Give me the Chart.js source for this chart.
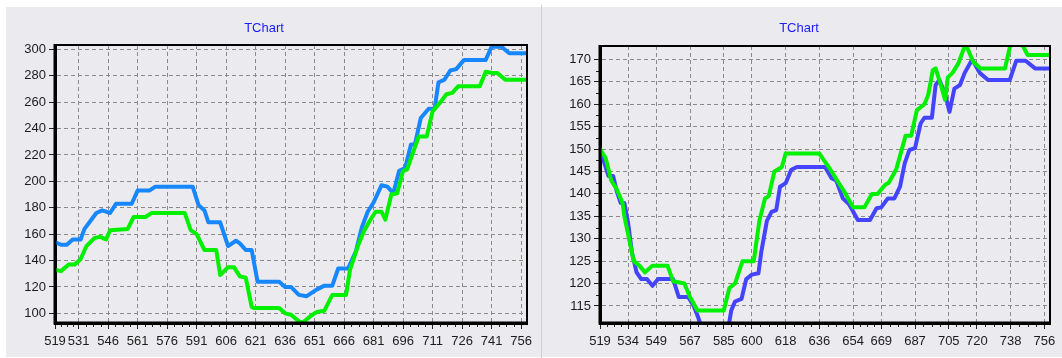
<!DOCTYPE html>
<html>
<head>
<meta charset="utf-8">
<script src="https://cdn.jsdelivr.net/npm/chart.js@4.4.1/dist/chart.umd.min.js"></script>
<style>
  html, body { margin: 0; padding: 0; background: #fff; }
  body { position: relative; width: 1062px; height: 358px; overflow: hidden; }
  .panel { position: absolute; top: 7px; height: 350px; background: #ebeaef; }
  #panelLeft { left: 6px; width: 535px; }
  #panelRight { left: 542px; width: 520px; }
  #divider { position: absolute; left: 541px; top: 5px; width: 1px; height: 353px; background: #cfcfd5; }
  .wrap { position: absolute; top: 0; height: 358px; }
  #wrapLeft { left: 1px; width: 540px; }
  #wrapRight { left: 548px; width: 514px; }
  canvas { display: block; }
</style>
</head>
<body>
<div class="panel" id="panelLeft"></div>
<div id="divider"></div>
<div class="panel" id="panelRight"></div>
<div class="wrap" id="wrapLeft"><canvas id="chartLeft" width="540" height="358"></canvas></div>
<div class="wrap" id="wrapRight"><canvas id="chartRight" width="514" height="358"></canvas></div>
<script>
// ---- Left chart data ----
const leftXTicks = [519, 531, 546, 561, 576, 591, 606, 621, 636, 651, 666, 681, 696, 711, 726, 741, 756];
const leftYTicks = [100, 120, 140, 160, 180, 200, 220, 240, 260, 280, 300];

const leftBlueX = [519, 522, 525, 528, 532, 534, 537, 540, 543, 545, 547, 550, 558, 561, 567, 570, 589, 592, 595, 597,
  603, 607, 611, 613, 616, 619, 622, 633, 636, 639, 643, 647, 652, 656, 660, 663, 668, 672, 675, 678,
  681, 685, 688, 691, 694, 697, 700, 702, 705, 709, 712, 714, 717, 720, 723, 727, 738, 741, 746, 750, 759];
const leftBlueY = [154, 152, 152, 156, 156, 164, 170, 176, 178, 177, 176, 183, 183, 193, 193, 196, 196, 182, 178, 169,
  169, 151, 155, 153, 148, 148, 124, 124, 120, 120, 114, 113, 118, 121, 121, 134, 134, 147, 165, 177,
  184, 197, 196, 191, 208, 210, 228, 228, 248, 255, 255, 275, 277, 284, 285, 292, 292, 302, 302, 297, 297];

const leftGreenX = [519, 522, 526, 529, 532, 535, 539, 542, 545, 547, 556, 559, 565, 568, 585, 588, 591, 595, 601, 603,
  607, 610, 613, 616, 619, 620, 633, 636, 639, 643, 645, 649, 652, 656, 660, 667, 669, 673, 676, 679,
  682, 685, 687, 690, 693, 696, 698, 702, 704, 708, 711, 715, 718, 721, 724, 735, 738, 742, 744, 748, 759];
const leftGreenY = [133, 132, 137, 137, 141, 151, 157, 158, 156, 163, 164, 173, 173, 176, 176, 163, 160, 148, 148, 129,
  135, 135, 128, 127, 105, 104, 104, 100, 99, 94, 93, 98, 101, 102, 114, 114, 133, 151, 162, 170,
  177, 177, 171, 190, 191, 208, 209, 226, 234, 234, 253, 260, 266, 267, 272, 272, 283, 282, 282, 277, 277];

// ---- Right chart data ----
const rightXTicks = [519, 534, 549, 567, 585, 600, 618, 636, 654, 669, 687, 705, 720, 738, 756];
const rightYTicks = [115, 120, 125, 130, 135, 140, 145, 150, 155, 160, 165, 170];

const rightGreenX = [519, 522, 525, 528, 531, 532, 535, 537, 540, 543, 547, 555, 558, 564, 567, 571, 585, 588, 591, 595,
  601, 604, 607, 609, 612, 616, 618, 636, 641, 644, 650, 654, 660, 664, 667, 671, 673, 677, 680, 682,
  685, 688, 692, 694, 696.5, 698, 701, 703, 704.5, 707, 710, 714, 718, 722, 735, 738, 744, 747, 759];
const rightGreenY = [150, 148, 143, 141, 138, 135, 129, 125, 124, 122.5, 124, 124, 120.5, 120, 117, 114, 114, 119, 120, 125,
  125, 134, 139, 139.5, 145, 146, 149, 149, 146, 144, 140, 137, 137, 140, 140, 142, 142.5, 145.5, 150, 153,
  153, 158.7, 160, 162, 167.6, 168, 164, 161, 166, 167, 169, 173.5, 169.5, 168, 168, 173.5, 173.5, 171, 171];

const rightBlueX = [519, 522, 523.5, 526, 528, 530, 532, 534, 536, 538.5, 541, 544, 547, 550, 558, 561, 566, 569, 571.5, 574,
  587, 589, 591, 594.5, 597, 600, 603.5, 605, 608, 610.5, 613, 615, 618, 621, 624, 639, 642.5, 645, 648.5, 652,
  656.5, 663, 666.5, 669, 672.5, 676, 679, 681.5, 684, 687, 690, 692, 696, 698, 700, 703, 705.4, 708, 711, 713.5,
  717.5, 721.5, 726, 737.5, 741, 746, 751, 759];
const rightBlueY = [150, 146, 144, 144, 140.5, 138, 138, 133.5, 127, 122.5, 121, 121, 119.5, 121, 121, 117, 117, 115, 112.3, 109,
  109, 114, 116, 116.6, 121, 122, 122.3, 127, 134, 136, 136.4, 141.6, 142.4, 145.4, 146, 146, 143.5, 143, 139, 137.6,
  134.2, 134.2, 136.8, 137, 139, 139, 141.6, 146.8, 149.8, 150.2, 155.7, 157, 157, 164.3, 165.4, 162.4, 158.3, 163.5, 164.3, 167,
  170, 167, 165.4, 165.4, 169.7, 169.7, 168, 168];

const pts = (xs, ys) => xs.map((x, i) => ({ x: x, y: ys[i] }));

Chart.defaults.font.family = '"Liberation Sans", Arial, sans-serif';
Chart.defaults.font.size = 13;
Chart.defaults.color = '#1c1c1c';

// Minor tick marks along the axes plus the black frame around the plot area
const framePlugin = {
  id: 'frameAndMinor',
  afterDatasetsDraw(chart, args, opts) {
    const ctx = chart.ctx, a = chart.chartArea;
    ctx.save();
    ctx.strokeStyle = '#222';
    ctx.lineWidth = 1;
    ['x', 'y'].forEach(id => {
      const n = opts[id];
      if (!n) return;
      const s = chart.scales[id];
      const v = s.ticks.map(t => t.value);
      for (let i = 0; i < v.length - 1; i++) {
        for (let k = 1; k < n; k++) {
          const p = Math.round(s.getPixelForValue(v[i] + (v[i + 1] - v[i]) * k / n)) + 0.5;
          ctx.beginPath();
          if (id === 'x') { ctx.moveTo(p, a.bottom); ctx.lineTo(p, a.bottom + 4); }
          else { ctx.moveTo(a.left - 4, p); ctx.lineTo(a.left, p); }
          ctx.stroke();
        }
      }
    });
    ctx.strokeStyle = '#000';
    ctx.lineWidth = 2;
    ctx.beginPath();
    ctx.moveTo(a.left, a.top); ctx.lineTo(a.right, a.top); ctx.lineTo(a.right, a.bottom);
    ctx.stroke();
    ctx.lineWidth = 3;
    ctx.beginPath();
    ctx.moveTo(a.left, a.top - 1); ctx.lineTo(a.left, a.bottom); ctx.lineTo(a.right + 1, a.bottom);
    ctx.stroke();
    ctx.restore();
  }
};

function makeChart(canvasId, cfg) {
  return new Chart(document.getElementById(canvasId), {
    type: 'line',
    data: {
      datasets: cfg.series.map(s => ({
        data: pts(s.x, s.y),
        borderColor: s.color,
        borderWidth: 4,
        pointRadius: 0,
        tension: 0,
        borderJoinStyle: 'round',
        borderCapStyle: 'round',
        fill: false
      }))
    },
    options: {
      responsive: false,
      animation: false,
      events: [],
      layout: { padding: { left: 0, right: cfg.padRight, top: 0, bottom: 0 } },
      plugins: {
        legend: { display: false },
        tooltip: { enabled: false },
        title: {
          display: true,
          text: 'TChart',
          color: '#1a1aff',
          font: { size: 13, weight: 'normal', lineHeight: 1.2 },
          padding: { top: 21, bottom: cfg.titleGap }
        },
        frameAndMinor: { x: 4, y: cfg.minorY }
      },
      scales: {
        x: {
          type: 'linear',
          min: 519,
          max: 759,
          afterBuildTicks: s => { s.ticks = cfg.xTicks.map(v => ({ value: v })); },
          afterFit: s => { s.height = 35; },
          ticks: { autoSkip: false, maxRotation: 0, padding: 5, callback: v => String(v) },
          grid: { color: '#8a8a8a', tickColor: '#222', tickLength: 6, tickBorderDash: [] },
          border: { display: true, color: '#000', width: 3, dash: [4, 3] }
        },
        y: {
          type: 'linear',
          min: cfg.yMin,
          max: cfg.yMax,
          afterBuildTicks: s => { s.ticks = cfg.yTicks.map(v => ({ value: v })); },
          afterFit: s => { s.width = cfg.yWidth; },
          ticks: { padding: 3, callback: v => String(v) },
          grid: { color: '#8a8a8a', tickColor: '#222', tickLength: 6, tickBorderDash: [] },
          border: { display: true, color: '#000', width: 3, dash: [4, 3] }
        }
      }
    },
    plugins: [framePlugin]
  });
}

makeChart('chartLeft', {
  series: [
    { x: leftGreenX, y: leftGreenY, color: '#00f000' },
    { x: leftBlueX, y: leftBlueY, color: '#1687ff' }
  ],
  xTicks: leftXTicks, yTicks: leftYTicks,
  yMin: 92.7, yMax: 303.3, yWidth: 54, padRight: 14, titleGap: 8.4, minorY: 0
});

makeChart('chartRight', {
  series: [
    { x: rightGreenX, y: rightGreenY, color: '#00f000' },
    { x: rightBlueX, y: rightBlueY, color: '#4444ff' }
  ],
  xTicks: rightXTicks, yTicks: rightYTicks,
  yMin: 111.2, yMax: 173.0, yWidth: 52, padRight: 12, titleGap: 9.4, minorY: 2
});
</script>
</body>
</html>
